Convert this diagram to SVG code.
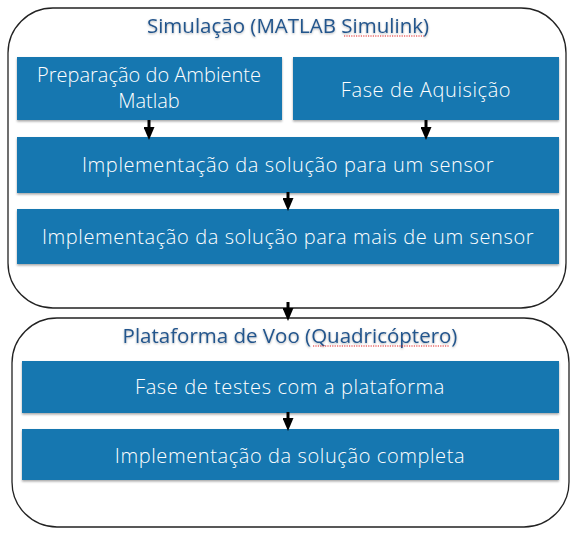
<svg xmlns="http://www.w3.org/2000/svg" width="580" height="540" viewBox="0 0 580 540">
<defs>
<filter id="sh" x="-5%" y="-20%" width="110%" height="150%">
<feDropShadow dx="0" dy="1.5" stdDeviation="1.2" flood-color="#000" flood-opacity="0.35"/>
</filter>
<filter id="tsh" x="-5%" y="-30%" width="110%" height="160%">
<feDropShadow dx="0" dy="1" stdDeviation="1" flood-color="#000" flood-opacity="0.3"/>
</filter>
<marker id="ah" markerWidth="13" markerHeight="11" refX="0" refY="5.5" orient="auto" markerUnits="userSpaceOnUse">
<path d="M0,0 L13,5.5 L0,11 Z" fill="#000"/>
</marker>
</defs>
<style>
.grp{fill:#fff;stroke:#222;stroke-width:1.3}
.box{fill:#1677b0;filter:url(#sh)}
.t{font-family:"Open Sans","Liberation Sans",Arial,sans-serif;font-weight:300;font-size:20px;letter-spacing:0.6px;fill:#fff;text-anchor:middle}
.t2{letter-spacing:0}
.tt{font-family:"Open Sans","Liberation Sans",Arial,sans-serif;font-size:20.5px;fill:#24558c;text-anchor:middle;filter:url(#tsh)}
.sq{stroke:#e02020;stroke-width:1.2;stroke-dasharray:1.2 1.2;fill:none}
.c{stroke:#000;stroke-width:3;fill:none;marker-end:url(#ah)}
</style>
<g id="sim">
<rect class="grp" x="8" y="8" width="558" height="300" rx="45" ry="45"/>
<text class="tt" x="288" y="33">Simulação (MATLAB Simulink)</text>
<line class="sq" x1="344" y1="36" x2="424" y2="36"/>
</g>
<g id="voo">
<rect class="grp" x="12" y="318" width="557" height="209" rx="45" ry="45"/>
<text class="tt" x="290" y="343">Plataforma de Voo (Quadricóptero)</text>
<line class="sq" x1="313" y1="346" x2="449" y2="346"/>
</g>
<g id="prep">
<rect class="box" x="17" y="57" width="265" height="63"/>
<text class="t t2" x="149" y="82">Preparação do Ambiente</text>
<text class="t t2" x="149" y="108">Matlab</text>
</g>
<g id="aquis">
<rect class="box" x="293" y="57" width="266" height="63"/>
<text class="t" x="426" y="97">Fase de Aquisição</text>
</g>
<g id="um">
<rect class="box" x="17" y="137" width="542" height="56"/>
<text class="t" x="288" y="172">Implementação da solução para um sensor</text>
</g>
<g id="mais">
<rect class="box" x="17" y="209" width="542" height="55"/>
<text class="t" x="288" y="244">Implementação da solução para mais de um sensor</text>
</g>
<g id="testes">
<rect class="box" x="22" y="361" width="537" height="52"/>
<text class="t" x="290" y="394">Fase de testes com a plataforma</text>
</g>
<g id="completa">
<rect class="box" x="22" y="429" width="537" height="51"/>
<text class="t" x="290" y="463">Implementação da solução completa</text>
</g>
<g id="connectors">
<line class="c" x1="149" y1="120" x2="149" y2="127"/>
<line class="c" x1="426" y1="120" x2="426" y2="127"/>
<line class="c" x1="288" y1="192" x2="288" y2="198"/>
<line class="c" x1="288" y1="302" x2="288" y2="308"/>
<line class="c" x1="288" y1="412" x2="288" y2="418"/>
</g>
</svg>
